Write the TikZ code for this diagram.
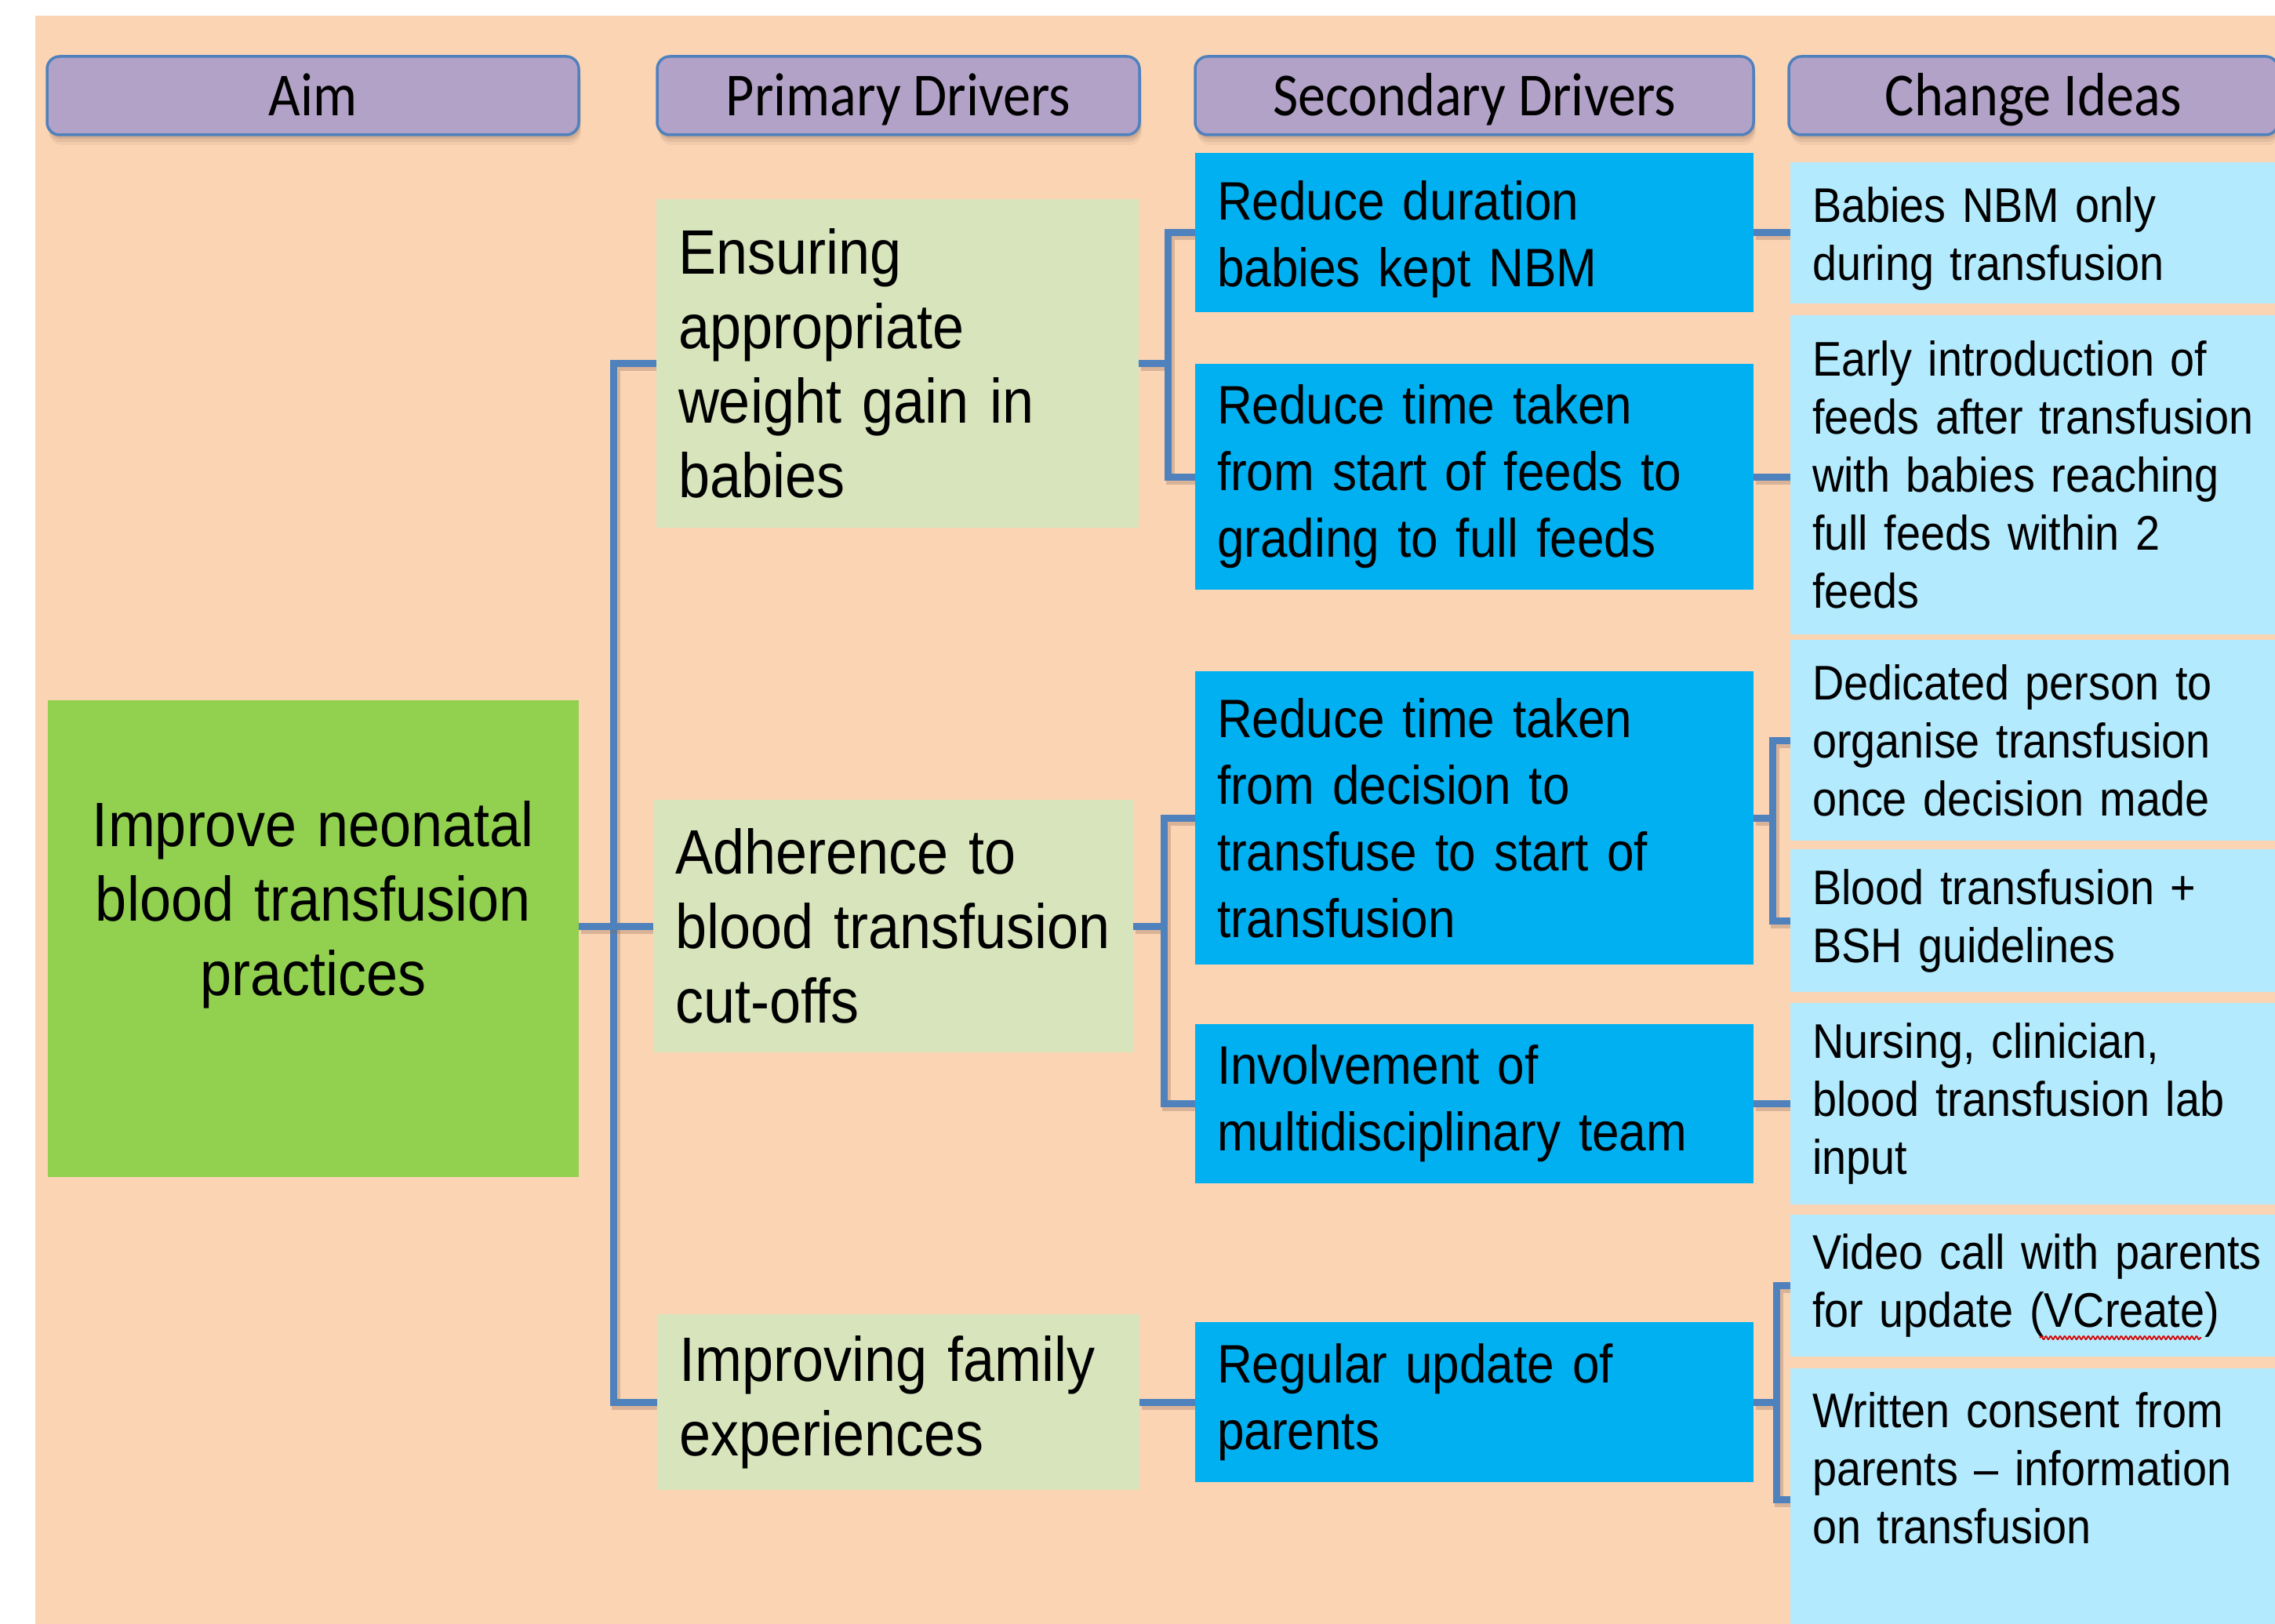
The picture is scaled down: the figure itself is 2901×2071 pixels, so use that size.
\documentclass[tikz,border=0pt]{standalone}
\usepackage{fontspec}
\setmainfont{Liberation Sans}[FakeStretch=0.9]
\newfontfamily\hdrface{Carlito}[FakeStretch=0.9]
\usetikzlibrary{decorations.pathmorphing}
\definecolor{peach}{HTML}{FBD4B4}
\definecolor{hdrfill}{HTML}{B3A2C7}
\definecolor{hdrline}{HTML}{4F81BD}
\definecolor{aimgreen}{HTML}{92D050}
\definecolor{prifill}{HTML}{D8E4BC}
\definecolor{secfill}{HTML}{00B0F0}
\definecolor{cifill}{HTML}{B3EAFD}
\definecolor{connblue}{HTML}{4F81BD}
\definecolor{shadowc}{HTML}{8A6A55}
\pgfdeclarelayer{background}
\pgfsetlayers{background,main}
\tikzset{
  hdr/.style={rectangle, rounded corners=16pt, draw=hdrline, line width=3.5pt, fill=hdrfill,
    font=\hdrface\fontsize{78}{90}\selectfont, text height=52pt, text depth=0pt,
    minimum height=100pt, inner sep=0pt, outer sep=0pt,
    preaction={fill=shadowc, fill opacity=0.18, draw=none, transform canvas={shift={(2pt,-5pt)}}},
    preaction={fill=shadowc, fill opacity=0.14, draw=none, transform canvas={shift={(2pt,-9pt)}}},
    preaction={fill=shadowc, fill opacity=0.08, draw=none, transform canvas={shift={(3pt,-13pt)}}}},
  box/.style={rectangle, inner xsep=28pt, inner ysep=0pt, outer sep=0pt, align=left, text=black},
  aimbox/.style={box, fill=aimgreen, align=center, font=\fontsize{80}{95}\selectfont,
    minimum width=677pt, text width=621pt, minimum height=608pt},
  pri/.style={box, fill=prifill, font=\fontsize{80}{95}\selectfont},
  sec/.style={box, fill=secfill, font=\fontsize{69}{85}\selectfont, minimum width=712pt, text width=656pt},
  ci/.style={box, fill=cifill, font=\fontsize{62}{74}\selectfont, minimum width=677pt, text width=621pt},
  conn/.style={draw=connblue, line width=9pt, line cap=butt, line join=miter,
    preaction={draw=shadowc, draw opacity=0.3, line width=11pt, transform canvas={shift={(3pt,-4pt)}}}}
}
\begin{document}
\begin{tikzpicture}[x=1pt,y=-1pt]
\useasboundingbox (0,0) rectangle (2901,2071);
\begin{pgfonlayer}{background}
\fill[white] (0,0) rectangle (2901,2071);
\fill[peach] (45,20) rectangle (2901,2071);
\end{pgfonlayer}

% headers
\node[hdr, minimum width=678pt] (hAim) at (399,122) {Aim};
\node[hdr, minimum width=615pt] (hPri) at (1145.5,122) {Primary Drivers};
\node[hdr, minimum width=712pt] (hSec) at (1880,122) {Secondary Drivers};
\begin{scope}
\clip (0,0) rectangle (2901,2071);
\node[hdr, minimum width=624pt] (hCI) at (2593,122) {Change Ideas};
\end{scope}

% aim
\node[aimbox, text height=100pt, text depth=336pt] (aim) at (399.5,1197) {Improve~neonatal\\blood~transfusion\\practices};

% primary drivers
\node[pri, minimum width=615pt, text width=559pt, minimum height=419pt] (p1) at (1144.5,463.5) {Ensuring\\appropriate\\weight~gain~in\\babies};
\node[pri, minimum width=612pt, text width=556pt, minimum height=322pt] (p2) at (1139,1181) {Adherence~to\\blood~transfusion\\cut-offs};
\node[pri, minimum width=615pt, text width=559pt, minimum height=224pt] (p3) at (1145.5,1788) {Improving~family\\experiences};

% secondary drivers
\node[sec, minimum height=203pt, text height=60pt, text depth=93pt] (s1) at (1880,296.5) {Reduce~duration\\babies~kept~NBM};
\node[sec, minimum height=288pt] (s2) at (1880,608) {Reduce~time~taken\\from~start~of~feeds~to\\grading~to~full~feeds};
\node[sec, minimum height=374pt] (s3) at (1880,1043) {Reduce~time~taken\\from~decision~to\\transfuse~to~start~of\\transfusion};
\node[sec, minimum height=203pt] (s4) at (1880,1407.5) {Involvement~of\\multidisciplinary~team};
\node[sec, minimum height=204pt] (s5) at (1880,1788) {Regular~update~of\\parents};

% change ideas
\node[ci, minimum height=180pt, text height=55pt, text depth=83pt] (c1) at (2621.5,297) {Babies~NBM~only\\during~transfusion};
\node[ci, minimum height=407pt] (c2) at (2621.5,605.5) {Early~introduction~of\\feeds~after~transfusion\\with~babies~reaching\\full~feeds~within~2\\feeds};
\node[ci, minimum height=256pt] (c3) at (2621.5,944) {Dedicated~person~to\\organise~transfusion\\once~decision~made};
\node[ci, minimum height=182pt] (c4) at (2621.5,1174) {Blood~transfusion~+\\BSH~guidelines};
\node[ci, minimum height=257pt] (c5) at (2621.5,1407.5) {Nursing,~clinician,\\blood~transfusion~lab\\input};
\node[ci, minimum height=181pt] (c6) at (2621.5,1639.5) {Video~call~with~parents\\for~update~(VCreate)};
\node[ci, minimum height=335pt, text height=75pt, text depth=260pt] (c7) at (2621.5,1912.5) {Written~consent~from\\parents~–~information\\on~transfusion};

% bracket positions
\coordinate (tx) at (782,0);
\coordinate (b1x) at (1489,0);
\coordinate (b2x) at (1484,0);
\coordinate (b3x) at (2260,0);
\coordinate (b4x) at (2265,0);

\begin{pgfonlayer}{background}
  \draw[conn] (p1.west) -- (p1.west -| tx) -- (p3.west -| tx) -- (p3.west);
  \draw[conn] (aim.east |- p2.west) -- (p2.west);
  \draw[conn] (p1.east) -- (p1.east -| b1x);
  \draw[conn] (s1.west) -- (s1.west -| b1x) -- (s2.west -| b1x) -- (s2.west);
  \draw[conn] (p2.east) -- (p2.east -| b2x);
  \draw[conn] (s3.west) -- (s3.west -| b2x) -- (s4.west -| b2x) -- (s4.west);
  \draw[conn] (p3.east) -- (s5.west);
  \draw[conn] (s1.east) -- (s1.east -| c1.west);
  \draw[conn] (s2.east) -- (s2.east -| c2.west);
  \draw[conn] (s3.east) -- (s3.east -| b3x);
  \draw[conn] (c3.west) -- (c3.west -| b3x) -- (c4.west -| b3x) -- (c4.west);
  \draw[conn] (s4.east) -- (s4.east -| c5.west);
  \draw[conn] (s5.east) -- (s5.east -| b4x);
  \draw[conn] (c6.west) -- (c6.west -| b4x) -- (c7.west -| b4x) -- (c7.west);
\end{pgfonlayer}

% spell-check underline
\draw[red!85!black, line width=1.8pt, decorate, decoration={snake, amplitude=2pt, segment length=6pt}] (2601,1706) -- (2807,1706);
\end{tikzpicture}
\end{document}
